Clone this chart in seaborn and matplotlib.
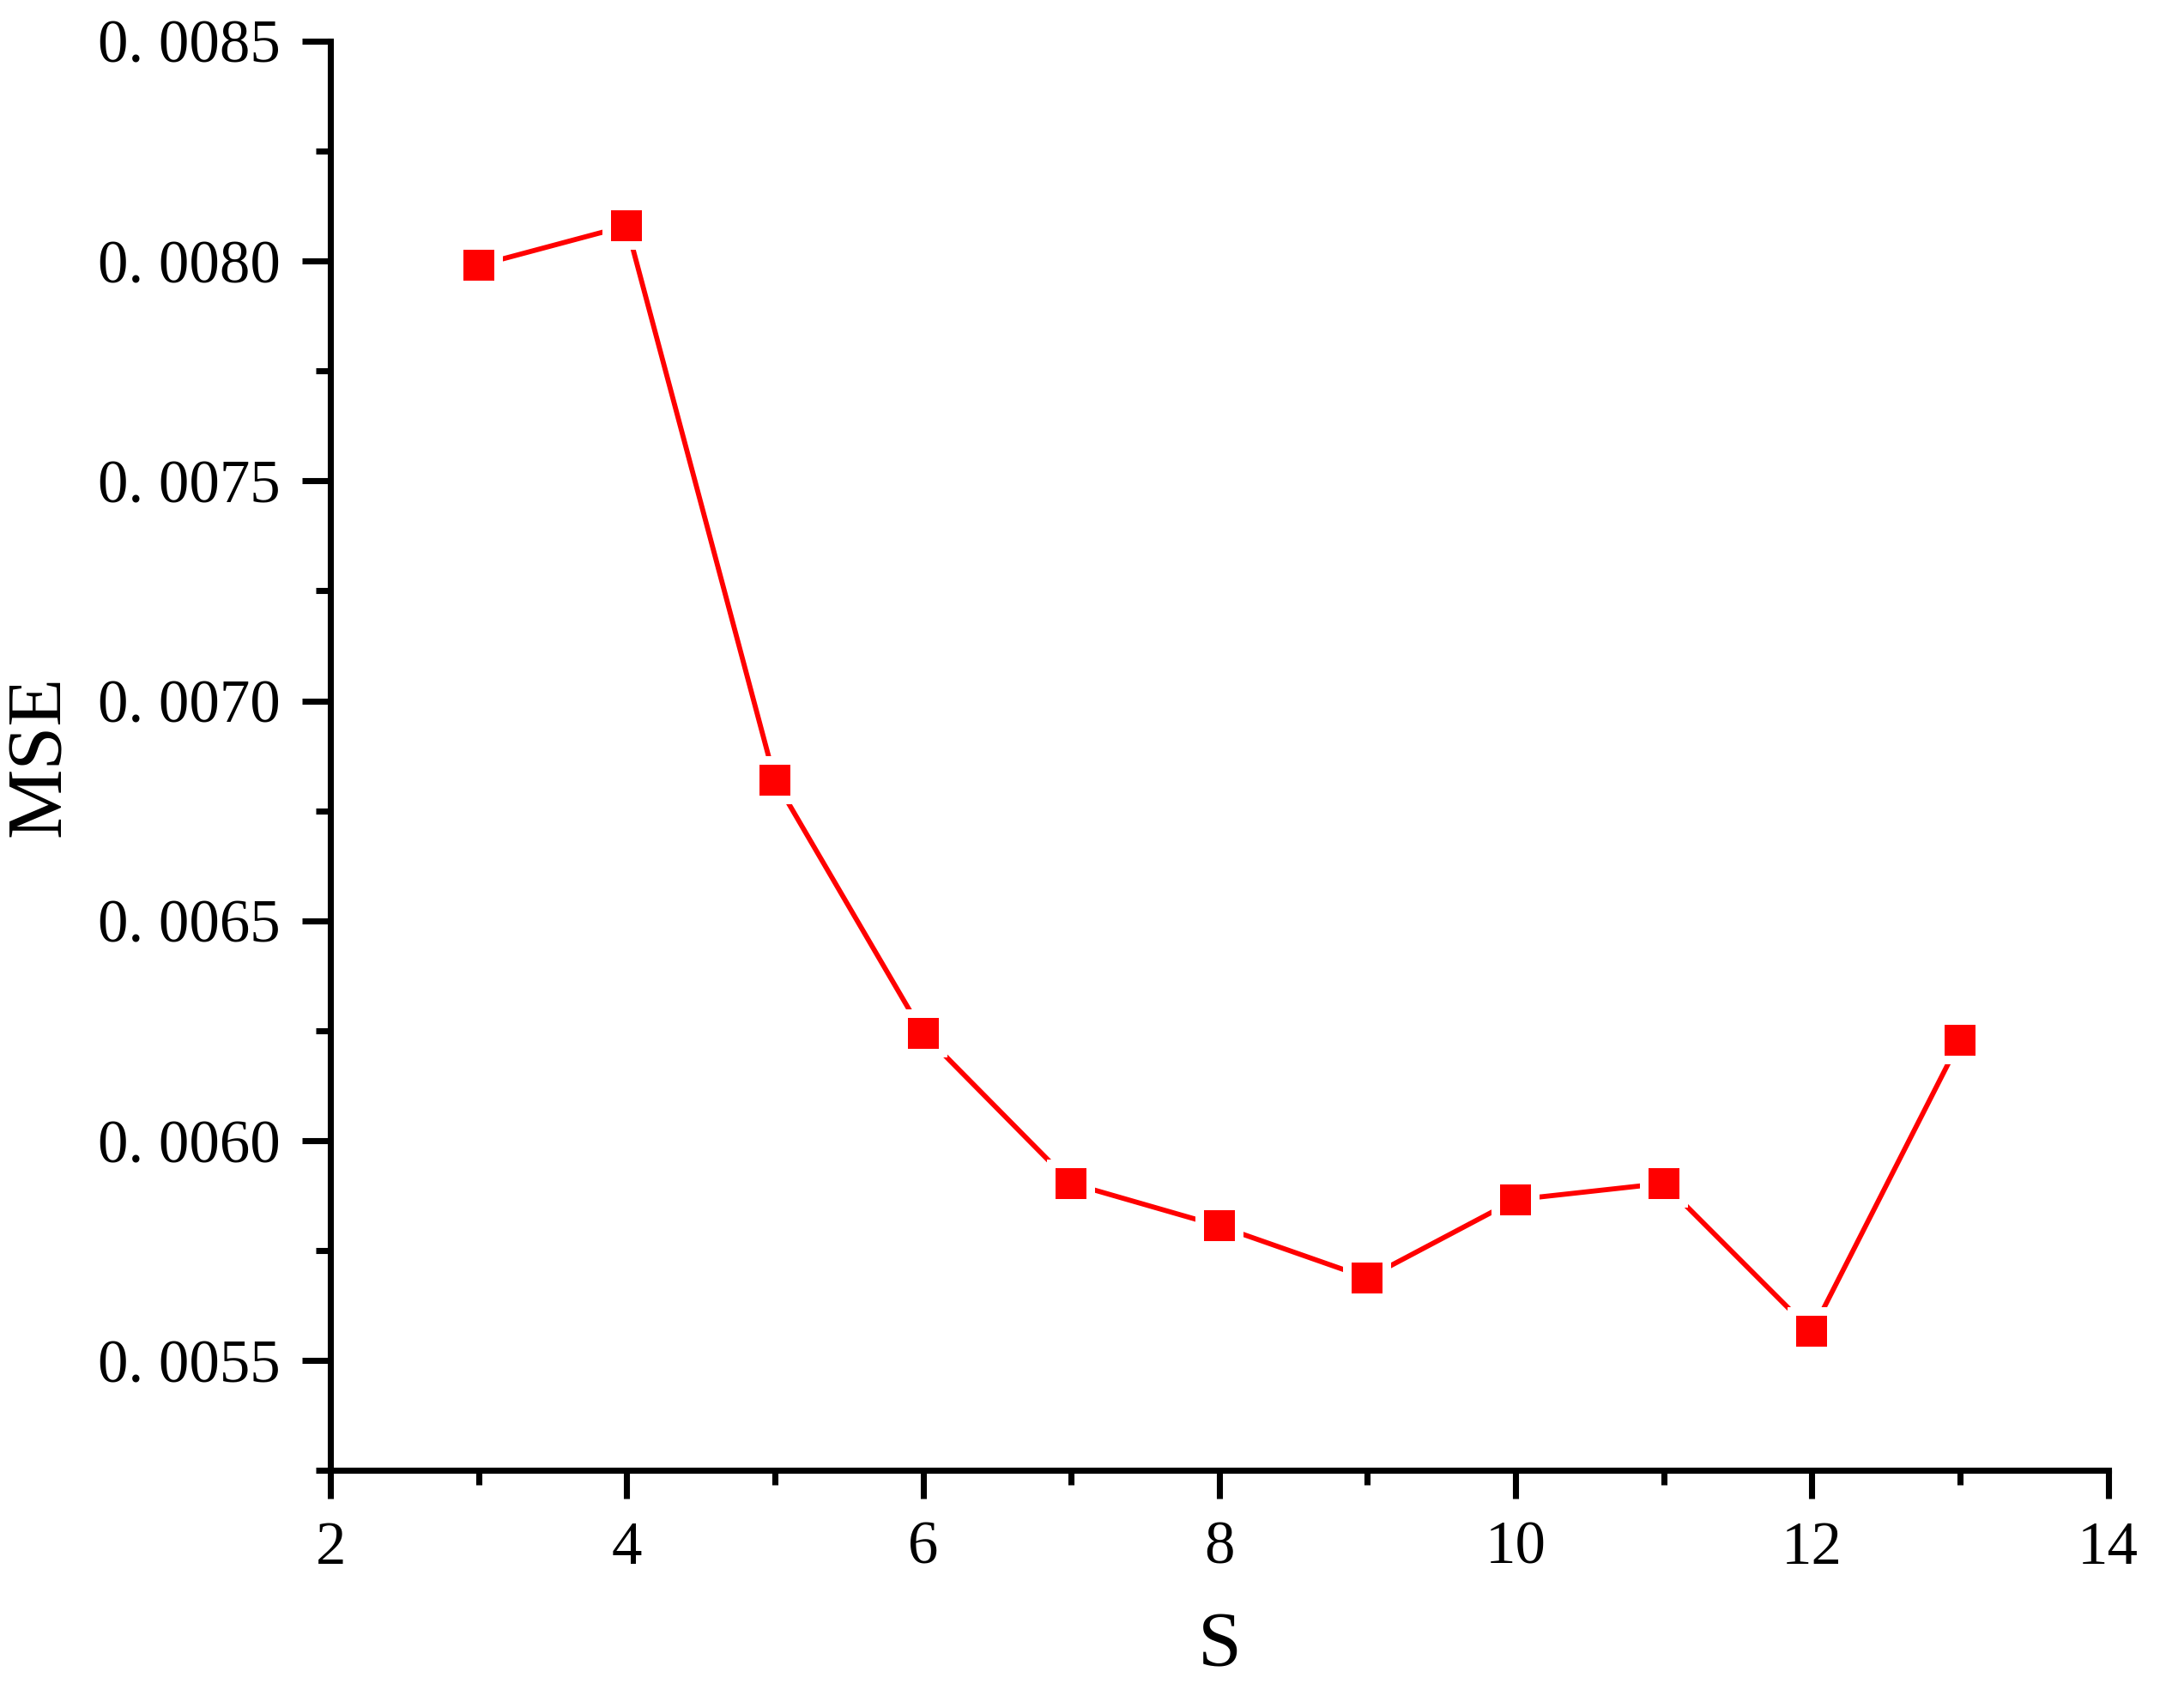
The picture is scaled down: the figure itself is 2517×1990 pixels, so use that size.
import numpy as np
import pandas as pd
import matplotlib
matplotlib.use("Agg")
import matplotlib.pyplot as plt
from matplotlib.ticker import MultipleLocator, FuncFormatter
import seaborn as sns

# values
s_values = [3, 4, 5, 6, 7, 8, 9, 10, 11, 12, 13]
mse_values = [0.00799, 0.00808, 0.00682, 0.006244, 0.005903, 0.005806,
              0.005688, 0.005866, 0.005903, 0.005566, 0.006228]

df = pd.DataFrame({"S": s_values, "MSE": mse_values})

sns.set_theme(style="ticks")
plt.rcParams["font.family"] = ["Liberation Serif", "DejaVu Serif"]
plt.rcParams["text.color"] = "black"
plt.rcParams["axes.labelcolor"] = "black"
plt.rcParams["xtick.color"] = "black"
plt.rcParams["ytick.color"] = "black"
plt.rcParams["axes.edgecolor"] = "black"
plt.rcParams["axes.linewidth"] = 1.7
for k in ["xtick.major.width", "ytick.major.width", "xtick.minor.width", "ytick.minor.width"]:
    plt.rcParams[k] = 1.7
plt.rcParams["xtick.major.size"] = 8
plt.rcParams["ytick.major.size"] = 8
plt.rcParams["xtick.minor.size"] = 4
plt.rcParams["ytick.minor.size"] = 4

fig = plt.figure(figsize=(2517 / 300, 1990 / 300), dpi=300)
ax = fig.add_axes([0.153, 0.139, 0.823, 0.837])

# white marker edge leaves the small gap between line and squares
sns.lineplot(data=df, x="S", y="MSE", ax=ax, color="#ff0000", linewidth=1.4,
             marker="s", markersize=11, markerfacecolor="#ff0000",
             markeredgecolor="white", markeredgewidth=2.4, errorbar=None)

ax.set_xlim(2, 14)
ax.set_ylim(0.00525, 0.0085)
ax.xaxis.set_major_locator(MultipleLocator(2))
ax.xaxis.set_minor_locator(MultipleLocator(1))
ax.yaxis.set_major_locator(MultipleLocator(0.0005))
ax.yaxis.set_minor_locator(MultipleLocator(0.00025))
ax.yaxis.set_major_formatter(FuncFormatter(lambda v, p: f"{v:.4f}".replace(".", ". ")))

ax.tick_params(axis="both", which="major", labelsize=17, pad=6)
sns.despine(ax=ax)

ax.set_xlabel("S", fontsize=22, labelpad=10)
ax.set_ylabel("MSE", fontsize=22, labelpad=6)

fig.savefig("out.png", dpi=300, facecolor="white")
